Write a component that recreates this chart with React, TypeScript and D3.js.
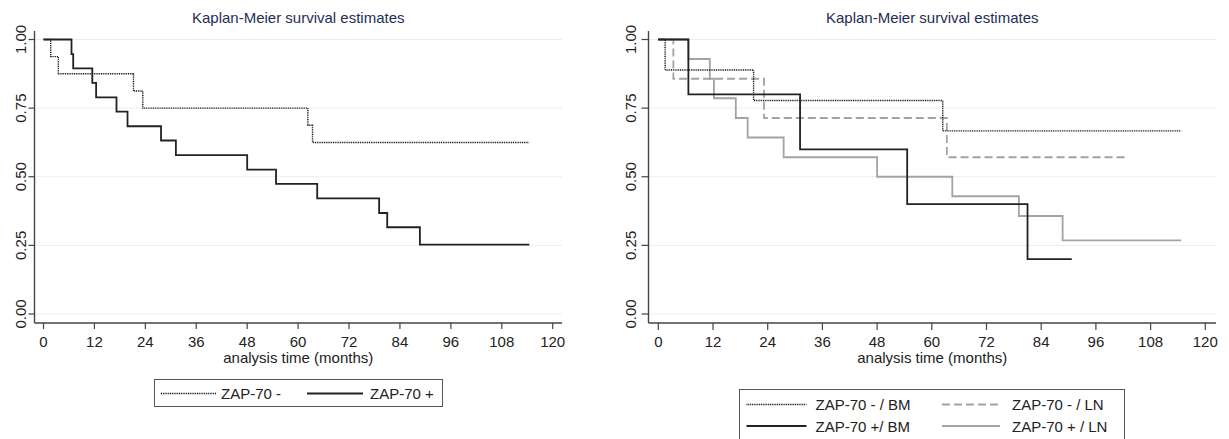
import * as d3 from "d3";

// Kaplan-Meier step data (time in months, survival)
const leftNegTimes = [0, 1.7, 3.5, 21.2, 23.4, 62.3, 63.4, 114.3];
const leftNegSurv = [1, 0.9375, 0.875, 0.8125, 0.75, 0.6875, 0.625, 0.625];
const leftPosTimes = [0, 6.6, 7.0, 11.5, 12.4, 17.2, 19.8, 27.7, 31.2, 48.0, 54.8, 64.5, 79.1, 81.0, 88.7, 114.5];
const leftPosSurv = [1, 0.947, 0.895, 0.842, 0.789, 0.737, 0.684, 0.632, 0.579, 0.526, 0.474, 0.421, 0.368, 0.316, 0.253, 0.253];

const negBMTimes = [0, 1.5, 20.9, 62.4, 114.7];
const negBMSurv = [1, 0.889, 0.778, 0.667, 0.667];
const negLNTimes = [0, 3.3, 23.2, 63.3, 102.8];
const negLNSurv = [1, 0.857, 0.714, 0.571, 0.571];
const posBMTimes = [0, 6.6, 31.1, 54.6, 81.0, 90.7];
const posBMSurv = [1, 0.8, 0.6, 0.4, 0.2, 0.2];
const posLNTimes = [0, 6.6, 11.3, 12.2, 17.0, 19.6, 27.5, 48.0, 64.5, 79.1, 88.7, 114.7];
const posLNSurv = [1, 0.929, 0.857, 0.786, 0.714, 0.643, 0.571, 0.5, 0.429, 0.357, 0.268, 0.268];

const xTicks = [0, 12, 24, 36, 48, 60, 72, 84, 96, 108, 120];
const yTicks = [0, 0.25, 0.5, 0.75, 1];
const titleText = "Kaplan-Meier survival estimates";
const xTitle = "analysis time (months)";

const FONT = "'Liberation Sans', Arial, sans-serif";

const styles = {
  dotted: { stroke: "#111", width: 1.4, dash: "1,0.8" },
  solid: { stroke: "#222", width: 1.8, dash: null },
  dashedGray: { stroke: "#a3a3a3", width: 1.8, dash: "8,4" },
  solidGray: { stroke: "#a3a3a3", width: 1.8, dash: null },
};

type Series = { label: string; times: number[]; surv: number[]; style: any };

const Panel = ({ x0, x1, axisX, plotRight, labelGap, tickLen, series }: { x0: number; x1: number; axisX: number; plotRight: number; labelGap: number; tickLen: number; series: Series[] }) => {
  const x = d3.scaleLinear().domain([0, 120]).range([x0, x1]);
  const y = d3.scaleLinear().domain([0, 1]).range([314, 39.5]);
  const axisY = 323;
  const line = d3
    .line<[number, number]>()
    .x((d) => x(d[0]))
    .y((d) => y(d[1]))
    .curve(d3.curveStepAfter);
  const cx = (axisX + plotRight) / 2;

  return (
    <g>
      <text x={cx} y={22.5} textAnchor="middle" fontSize={15} fill="#1f2d57" fontFamily={FONT}>
        {titleText}
      </text>
      {yTicks.map((t) => (
        <line key={"g" + t} x1={axisX} x2={plotRight} y1={y(t)} y2={y(t)} stroke="#e6eff1" strokeWidth={1} />
      ))}
      {series.map((s) => (
        <path
          key={s.label}
          d={line(s.times.map((t, i) => [t, s.surv[i]]) as [number, number][]) || ""}
          fill="none"
          stroke={s.style.stroke}
          strokeWidth={s.style.width}
          strokeDasharray={s.style.dash || undefined}
        />
      ))}
      <line x1={axisX} x2={axisX} y1={31} y2={axisY} stroke="#444" strokeWidth={1.4} />
      <line x1={axisX} x2={plotRight} y1={axisY} y2={axisY} stroke="#444" strokeWidth={1.4} />
      {yTicks.map((t) => (
        <g key={"y" + t}>
          <line x1={axisX - tickLen} x2={axisX} y1={y(t)} y2={y(t)} stroke="#444" strokeWidth={1.2} />
          <text
            transform={`translate(${axisX - labelGap},${y(t)}) rotate(-90)`}
            textAnchor="middle"
            fontSize={15}
            fill="#222"
            fontFamily={FONT}
          >
            {d3.format(".2f")(t)}
          </text>
        </g>
      ))}
      {xTicks.map((t) => (
        <g key={"x" + t}>
          <line x1={x(t)} x2={x(t)} y1={axisY} y2={axisY + tickLen} stroke="#444" strokeWidth={1.2} />
          <text x={x(t)} y={346.5} textAnchor="middle" fontSize={15} fill="#222" fontFamily={FONT}>
            {t}
          </text>
        </g>
      ))}
      <text x={cx} y={363} textAnchor="middle" fontSize={15} fill="#222" fontFamily={FONT}>
        {xTitle}
      </text>
    </g>
  );
};

const LegendItem = ({ x, y, len, gap, s }: { x: number; y: number; len: number; gap: number; s: Series }) => (
  <g>
    <line
      x1={x}
      x2={x + len}
      y1={y}
      y2={y}
      stroke={s.style.stroke}
      strokeWidth={s.style.width}
      strokeDasharray={s.style.dash || undefined}
    />
    <text x={x + len + gap} y={y + 5.5} fontSize={15} fill="#222" fontFamily={FONT}>
      {s.label}
    </text>
  </g>
);

const App = () => {
  const leftSeries: Series[] = [
    { label: "ZAP-70 -", times: leftNegTimes, surv: leftNegSurv, style: styles.dotted },
    { label: "ZAP-70 +", times: leftPosTimes, surv: leftPosSurv, style: styles.solid },
  ];
  const rightSeries: Series[] = [
    { label: "ZAP-70 + / LN", times: posLNTimes, surv: posLNSurv, style: styles.solidGray },
    { label: "ZAP-70 - / LN", times: negLNTimes, surv: negLNSurv, style: styles.dashedGray },
    { label: "ZAP-70 - / BM", times: negBMTimes, surv: negBMSurv, style: styles.dotted },
    { label: "ZAP-70 +/ BM", times: posBMTimes, surv: posBMSurv, style: styles.solid },
  ];

  return (
    <svg
      width={1229}
      height={439}
      style={{ position: "absolute", left: 0, top: 0, background: "#fff" }}
    >
      <Panel x0={43.5} x1={552.7} axisX={34.5} plotRight={562} labelGap={9} tickLen={6} series={leftSeries} />
      <Panel x0={658.3} x1={1205.3} axisX={648.5} plotRight={1216} labelGap={13} tickLen={7} series={rightSeries} />

      {/* left legend */}
      <rect x={154.5} y={379.5} width={288} height={27} fill="none" stroke="#555" strokeWidth={1} />
      <LegendItem x={161} y={393.5} len={55} gap={5} s={leftSeries[0]} />
      <LegendItem x={307} y={393.5} len={56} gap={7} s={leftSeries[1]} />

      {/* right legend */}
      <rect x={739.5} y={389.5} width={385} height={60} fill="none" stroke="#555" strokeWidth={1} />
      <LegendItem x={746.5} y={404.5} len={60} gap={9} s={rightSeries[2]} />
      <LegendItem x={942} y={404.5} len={58} gap={12} s={rightSeries[1]} />
      <LegendItem x={746.5} y={426} len={60} gap={9} s={rightSeries[3]} />
      <LegendItem x={942} y={426} len={58} gap={12} s={rightSeries[0]} />
    </svg>
  );
};

export default App;
